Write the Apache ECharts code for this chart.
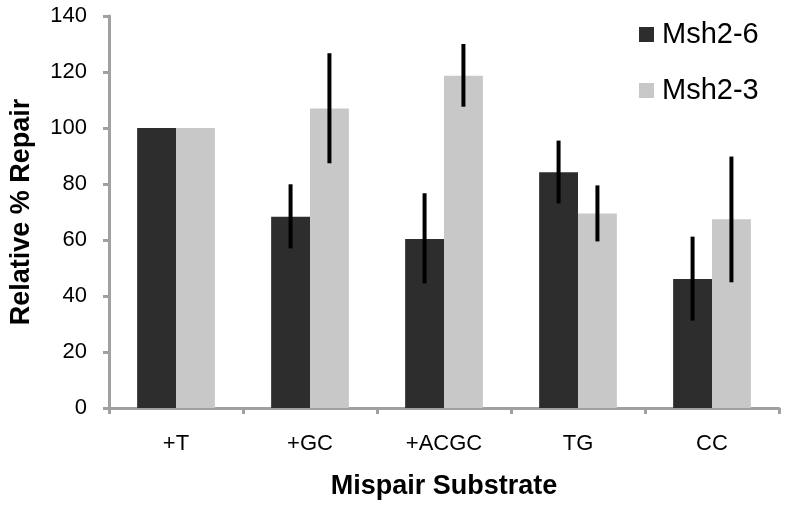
<!DOCTYPE html>
<html>
<head>
<meta charset="utf-8">
<script src="https://cdn.jsdelivr.net/npm/echarts@6/dist/echarts.min.js"></script>
<style>html,body{margin:0;padding:0;background:#fff;}#c{width:785px;height:505px;}</style>
</head>
<body>
<div id="c"></div>
<script>
var categories = ['+T', '+GC', '+ACGC', 'TG', 'CC'];
var msh26 = [100, 68.3, 60.4, 84.2, 46.1];
var msh23 = [100, 107, 118.7, 69.5, 67.4];
var msh26Low = [null, 57, 44.5, 73.1, 31.2];
var msh26High = [null, 79.9, 76.7, 95.5, 61.2];
var msh23Low = [null, 87.4, 107.6, 59.5, 44.9];
var msh23High = [null, 126.7, 130, 79.5, 89.8];
var yTicks = [0, 20, 40, 60, 80, 100, 120, 140];

var FONT = 'Liberation Sans, Arial, Helvetica, sans-serif';
var BAR_FRAC = 0.29;

function errData(lo, hi) {
  var out = [];
  for (var i = 0; i < categories.length; i++) {
    if (lo[i] != null) out.push([i, lo[i], hi[i]]);
  }
  return out;
}
function errSeries(name, lo, hi, side) {
  return {
    type: 'custom',
    name: name + ' err',
    data: errData(lo, hi),
    z: 10,
    silent: true,
    renderItem: function (params, api) {
      var idx = api.value(0);
      var p1 = api.coord([idx, api.value(1)]);
      var p2 = api.coord([idx, api.value(2)]);
      var bw = api.size([1, 0])[0] * BAR_FRAC;
      var x = p1[0] + side * bw / 2;
      return {
        type: 'line',
        shape: { x1: x, y1: p1[1], x2: x, y2: p2[1] },
        style: { stroke: '#000', lineWidth: 4 }
      };
    }
  };
}

var chart = echarts.init(document.getElementById('c'), null, { renderer: 'canvas' });
chart.setOption({
  animation: false,
  backgroundColor: '#fff',
  textStyle: { fontFamily: FONT },
  grid: { left: 105, top: 16, right: 6, bottom: 97, containLabel: false },
  legend: {
    orient: 'vertical',
    left: 639,
    top: 20,
    padding: 0,
    itemWidth: 15,
    itemHeight: 15,
    itemGap: 27,
    icon: 'rect',
    data: ['Msh2-6', 'Msh2-3'],
    textStyle: { fontSize: 29, color: '#000', fontFamily: FONT, padding: [0, 0, 0, 3] }
  },
  xAxis: {
    type: 'category',
    data: categories,
    name: 'Mispair Substrate',
    nameLocation: 'middle',
    nameGap: 65,
    nameTextStyle: { fontSize: 27, fontWeight: 'bold', color: '#000', fontFamily: FONT },
    axisLine: { lineStyle: { color: '#a0a0a0', width: 3 } },
    axisTick: { show: true, length: 6, inside: false, lineStyle: { color: '#a0a0a0', width: 3 } },
    axisLabel: { fontSize: 22, color: '#000', margin: 25, fontFamily: FONT }
  },
  yAxis: {
    type: 'value',
    min: 0,
    max: 140,
    interval: 20,
    name: 'Relative % Repair',
    nameLocation: 'middle',
    nameGap: 74,
    nameRotate: 90,
    nameTextStyle: { fontSize: 27, fontWeight: 'bold', color: '#000', fontFamily: FONT },
    axisLine: { show: true, lineStyle: { color: '#a0a0a0', width: 3 } },
    axisTick: { show: true, length: 6, lineStyle: { color: '#a0a0a0', width: 3 } },
    splitLine: { show: false },
    axisLabel: {
      fontSize: 22, color: '#000', margin: 22, fontFamily: FONT,
      formatter: function (v) { return yTicks.indexOf(v) >= 0 ? String(v) : ''; }
    }
  },
  series: [
    { name: 'Msh2-6', type: 'bar', data: msh26, barWidth: (BAR_FRAC * 100) + '%', barGap: '0%', itemStyle: { color: '#2d2d2d' } },
    { name: 'Msh2-3', type: 'bar', data: msh23, barWidth: (BAR_FRAC * 100) + '%', barGap: '0%', itemStyle: { color: '#c8c8c8' } },
    errSeries('Msh2-6', msh26Low, msh26High, -1),
    errSeries('Msh2-3', msh23Low, msh23High, 1)
  ]
});
</script>
</body>
</html>
